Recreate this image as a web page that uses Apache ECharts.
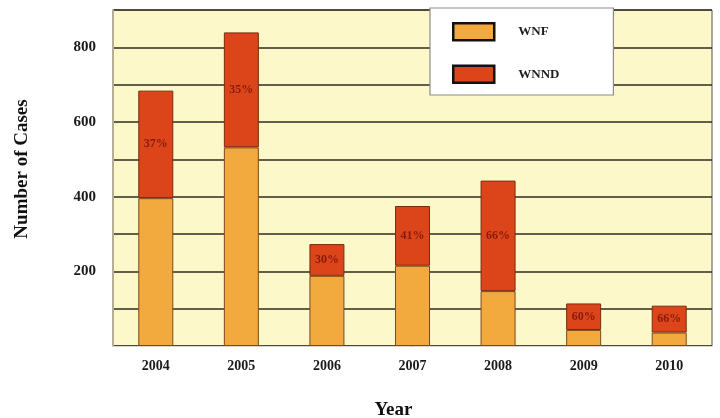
<!DOCTYPE html>
<html>
<head>
<meta charset="utf-8">
<script src="https://cdn.jsdelivr.net/npm/echarts@6/dist/echarts.min.js"></script>
<style>
  html, body { margin: 0; padding: 0; background: #ffffff; }
  #chart { width: 720px; height: 418px; }
</style>
</head>
<body>
<div id="chart"></div>
<script>
// Yearly case counts, split into WNF and WNND
const years = ['2004', '2005', '2006', '2007', '2008', '2009', '2010'];
const wnf = [396, 532, 188, 215, 147, 43, 36];
const wnnd = [288, 308, 85, 160, 296, 71, 72];
const wnndShare = ['37%', '35%', '30%', '41%', '66%', '60%', '66%'];
const yTicks = [200, 400, 600, 800];

const serif = '"Liberation Serif", "DejaVu Serif", serif';

const chart = echarts.init(document.getElementById('chart'), null, { renderer: 'canvas' });

chart.setOption({
  backgroundColor: '#ffffff',
  animation: false,
  grid: {
    left: 113, right: 8, top: 10, bottom: 72,
    outerBoundsMode: 'none',
    containLabel: false,
    show: true,
    backgroundColor: '#fdf8c9',
    borderColor: '#5a5648',
    borderWidth: 1
  },
  legend: {
    orient: 'vertical',
    left: 430, top: 8,
    backgroundColor: '#ffffff',
    borderColor: '#8c8c8c',
    borderWidth: 1.2,
    padding: [14, 54, 11, 22],
    itemWidth: 41,
    itemHeight: 17,
    itemGap: 23,
    icon: 'rect',
    itemStyle: { borderColor: '#111111', borderWidth: 2.5 },
    textStyle: {
      fontFamily: serif, fontWeight: 'bold', fontSize: 13, color: '#1e1e1e',
      padding: [0, 0, 0, 19]
    },
    data: ['WNF', 'WNND']
  },
  xAxis: {
    type: 'category',
    data: years,
    name: 'Year',
    nameLocation: 'middle',
    nameGap: 55,
    nameTextStyle: {
      fontFamily: serif, fontWeight: 'bold', fontSize: 19, color: '#111',
      padding: [0, 38, 0, 0]
    },
    axisLine: { show: true, lineStyle: { color: '#d8d6cc', width: 1 } },
    axisTick: { show: false },
    axisLabel: {
      fontFamily: serif, fontWeight: 'bold', fontSize: 14, color: '#1a1a1a', margin: 13
    }
  },
  yAxis: {
    type: 'value',
    min: 0, max: 900, interval: 100,
    name: 'Number of Cases',
    nameLocation: 'middle',
    nameGap: 81,
    nameRotate: 90,
    nameTextStyle: {
      fontFamily: serif, fontWeight: 'bold', fontSize: 19, color: '#111',
      padding: [0, 0, 0, 18]
    },
    axisLine: { show: true, lineStyle: { color: '#b4af96', width: 2 } },
    axisTick: { show: false },
    axisLabel: {
      fontFamily: serif, fontWeight: 'bold', fontSize: 15, color: '#1a1a1a', margin: 17,
      formatter: v => (yTicks.includes(v) ? String(v) : '')
    },
    splitLine: { show: true, lineStyle: { color: '#2e2b22', width: 1.5 } }
  },
  series: [
    {
      name: 'WNF',
      type: 'bar',
      stack: 'cases',
      barWidth: 35,
      data: wnf,
      itemStyle: { color: '#f2a93e', borderColor: '#7a4a1e', borderWidth: 1 }
    },
    {
      name: 'WNND',
      type: 'bar',
      stack: 'cases',
      barWidth: 35,
      data: wnnd,
      itemStyle: { color: '#db4519', borderColor: '#7a2a12', borderWidth: 1 },
      label: {
        show: true,
        position: 'inside',
        formatter: p => wnndShare[p.dataIndex],
        fontFamily: serif, fontWeight: 'bold', fontSize: 12, color: '#8a1a0c'
      }
    }
  ]
});
</script>
</body>
</html>
